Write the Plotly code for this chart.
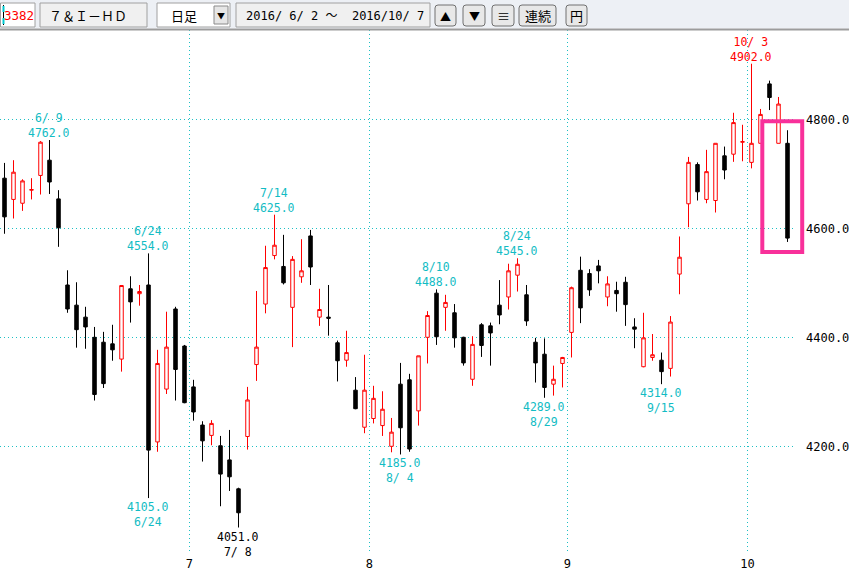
import plotly.graph_objects as go

# ---------------- data ----------------
dates = [
    "6/2", "6/3", "6/6", "6/7", "6/8", "6/9", "6/10", "6/13", "6/14", "6/15", "6/16", "6/17",
    "6/20", "6/21", "6/22", "6/23", "6/24", "6/27", "6/28", "6/29", "6/30",
    "7/1", "7/4", "7/5", "7/6", "7/7", "7/8", "7/11", "7/12", "7/13", "7/14", "7/15",
    "7/19", "7/20", "7/21", "7/22", "7/25", "7/26", "7/27", "7/28", "7/29",
    "8/1", "8/2", "8/3", "8/4", "8/5", "8/8", "8/9", "8/10", "8/12", "8/15", "8/16", "8/17",
    "8/18", "8/19", "8/22", "8/23", "8/24", "8/25", "8/26", "8/29", "8/30", "8/31",
    "9/1", "9/2", "9/5", "9/6", "9/7", "9/8", "9/9", "9/12", "9/13", "9/14", "9/15", "9/16",
    "9/20", "9/21", "9/23", "9/26", "9/27", "9/28", "9/29", "9/30",
    "10/3", "10/4", "10/5", "10/6", "10/7",
]
opens = [
    4692, 4653, 4646, 4670, 4697, 4725, 4654, 4496, 4459, 4437, 4400, 4391,
    4388, 4360, 4489, 4480, 4496, 4208, 4305, 4452, 4384,
    4309, 4239, 4220, 4201, 4175, 4122, 4218, 4350, 4461, 4550, 4530,
    4455, 4511, 4586, 4437, 4437, 4390, 4358, 4303, 4235,
    4251, 4238, 4200, 4314, 4322, 4265, 4400, 4481, 4455, 4445, 4400, 4323,
    4423, 4421, 4459, 4474, 4514, 4478, 4391, 4369, 4314, 4352,
    4409, 4523, 4517, 4531, 4474, 4486, 4501, 4419, 4346, 4363, 4358, 4343,
    4516, 4645, 4717, 4653, 4651, 4733, 4736, 4758,
    4721, 4756, 4865, 4756, 4756,
]
highs = [
    4720, 4725, 4690, 4692, 4760, 4762, 4670, 4523, 4501, 4456, 4419, 4410,
    4423, 4495, 4512, 4496, 4554, 4377, 4447, 4456, 4386,
    4322, 4246, 4248, 4219, 4230, 4124, 4309, 4485, 4568, 4625, 4588,
    4549, 4580, 4597, 4489, 4496, 4394, 4412, 4327, 4368,
    4311, 4301, 4252, 4353, 4333, 4366, 4448, 4488, 4478, 4461, 4401, 4402,
    4426, 4427, 4505, 4535, 4545, 4496, 4399, 4398, 4348, 4364,
    4493, 4548, 4525, 4542, 4512, 4502, 4511, 4435, 4445, 4406, 4372, 4439,
    4585, 4731, 4721, 4744, 4756, 4750, 4812, 4790,
    4902, 4819, 4871, 4841, 4780,
]
lows = [
    4590, 4618, 4632, 4653, 4662, 4663, 4566, 4445, 4381, 4379, 4284, 4307,
    4357, 4337, 4427, 4458, 4105, 4190, 4296, 4284, 4279,
    4247, 4172, 4202, 4090, 4118, 4051, 4194, 4320, 4444, 4543, 4497,
    4382, 4500, 4496, 4421, 4403, 4319, 4346, 4268, 4224,
    4242, 4219, 4189, 4185, 4190, 4238, 4352, 4386, 4412, 4381, 4348, 4311,
    4364, 4348, 4424, 4451, 4484, 4421, 4317, 4289, 4293, 4308,
    4363, 4426, 4476, 4499, 4457, 4447, 4421, 4380, 4345, 4357, 4314, 4328,
    4479, 4602, 4651, 4646, 4629, 4690, 4722, 4723,
    4710, 4756, 4817, 4756, 4575,
]
closes = [
    4621, 4703, 4687, 4671, 4758, 4685, 4601, 4452, 4414, 4419, 4295, 4315,
    4377, 4495, 4465, 4484, 4193, 4352, 4382, 4341, 4280,
    4263, 4210, 4242, 4149, 4144, 4078, 4285, 4382, 4528, 4569, 4500,
    4543, 4522, 4529, 4451, 4435, 4357, 4372, 4269, 4303,
    4288, 4268, 4226, 4234, 4195, 4366, 4440, 4401, 4464, 4399, 4353, 4387,
    4385, 4408, 4441, 4522, 4534, 4430, 4353, 4308, 4323, 4363,
    4491, 4454, 4487, 4522, 4498, 4480, 4460, 4415, 4399, 4368, 4337, 4428,
    4547, 4721, 4667, 4704, 4756, 4707, 4794, 4759,
    4756, 4809, 4840, 4828, 4582,
]
y_ticks = [4200, 4400, 4600, 4800]
high_marks = ["6/9", "6/24", "7/14", "8/10", "8/24", "10/3"]
low_marks = ["6/24", "7/8", "8/4", "8/29", "9/15"]

# ---------------- geometry ----------------
W, H = 849, 573
ML, MR, MT, MB = 0, 56, 30, 20
PW, PH = W - ML - MR, H - MT - MB
STEP = 9.0  # px per trading day
x0 = -4.5 / STEP
x_range = [x0, x0 + PW / STEP]
y_range = [4004.2, 4963.9]

CYAN_TXT = "#12bcc4"
CYAN_GRID = "#1ec0c4"
MONO = "DejaVu Sans Mono, Noto Sans CJK JP, monospace"
JP = "Noto Sans CJK JP, sans-serif"

idx = list(range(len(dates)))

fig = go.Figure(go.Candlestick(
    x=idx, open=opens, high=highs, low=lows, close=closes,
    increasing=dict(line=dict(color="#ff0000", width=1), fillcolor="#ffffff"),
    decreasing=dict(line=dict(color="#000000", width=1), fillcolor="#000000"),
    whiskerwidth=0, hoverinfo="skip", showlegend=False,
))

# month boundaries
months = [d.split("/")[0] for d in dates]
tickvals, ticktext = [], []
for i in range(1, len(dates)):
    if months[i] != months[i - 1]:
        tickvals.append(i - 0.45)
        ticktext.append(months[i])


def fmt_date(d):
    m, dd = d.split("/")
    return f"{m}/{dd:>2}".replace(" ", "\u00a0")


annotations = []
max_h = max(highs)
min_l = min(lows)
for d in high_marks:
    i = dates.index(d)
    col = "#ff0000" if highs[i] == max_h else CYAN_TXT
    annotations.append(dict(
        x=i, y=highs[i], xref="x", yref="y", showarrow=False,
        text=f"{fmt_date(d)}<br>{highs[i]:.1f}", align="center",
        xanchor="center", yanchor="bottom", xshift=-1, yshift=-2,
        font=dict(family=MONO, size=11.5, color=col)))
for d in low_marks:
    i = dates.index(d)
    col = "#000000" if lows[i] == min_l else CYAN_TXT
    annotations.append(dict(
        x=i, y=lows[i], xref="x", yref="y", showarrow=False,
        text=f"{lows[i]:.1f}<br>{fmt_date(d)}", align="center",
        xanchor="center", yanchor="top", xshift=-1, yshift=0,
        font=dict(family=MONO, size=11.5, color=col)))


# ---------------- toolbar (paper coordinates) ----------------
def px(x):
    return (x - ML) / PW


def py(y):
    return (H - MB - y) / PH


shapes = []


def rect(x_a, y_a, x_b, y_b, fill, line="#a0a0a0", lw=1):
    shapes.append(dict(type="rect", xref="paper", yref="paper",
                       x0=px(x_a), x1=px(x_b), y0=py(y_b), y1=py(y_a),
                       fillcolor=fill, line=dict(color=line, width=lw), layer="above"))


def rrect(x_a, y_a, x_b, y_b, r, fill, line="#707070"):
    pts = (f"M{px(x_a + r)},{py(y_a)} L{px(x_b - r)},{py(y_a)} "
           f"Q{px(x_b)},{py(y_a)} {px(x_b)},{py(y_a + r)} "
           f"L{px(x_b)},{py(y_b - r)} Q{px(x_b)},{py(y_b)} {px(x_b - r)},{py(y_b)} "
           f"L{px(x_a + r)},{py(y_b)} Q{px(x_a)},{py(y_b)} {px(x_a)},{py(y_b - r)} "
           f"L{px(x_a)},{py(y_a + r)} Q{px(x_a)},{py(y_a)} {px(x_a + r)},{py(y_a)} Z")
    shapes.append(dict(type="path", xref="paper", yref="paper", path=pts,
                       fillcolor=fill, line=dict(color=line, width=1), layer="above"))


def line(x_a, y_a, x_b, y_b, color, lw=1):
    shapes.append(dict(type="line", xref="paper", yref="paper",
                       x0=px(x_a), x1=px(x_b), y0=py(y_a), y1=py(y_b),
                       line=dict(color=color, width=lw), layer="above"))


def label(x, y, text, size=13, color="#000000", family=JP, anchor="center"):
    annotations.append(dict(x=px(x), y=py(y), xref="paper", yref="paper", text=text,
                            showarrow=False, xanchor=anchor, yanchor="middle",
                            font=dict(family=family, size=size, color=color)))


rect(-1, -1, W + 1, 28.5, "#edf0f5", line="#edf0f5", lw=0)
line(0, 29.5, W, 29.5, "#9c9c9c", 2)
# code box
rect(0.5, 3, 35, 27, "#ffffff")
line(3.5, 5, 3.5, 25, "#000000", 1)
line(3.5, 6, 3.5, 12, "#00c8d0", 2)
line(3.5, 18, 3.5, 24, "#00c8d0", 2)
label(19, 15.5, "3382", size=12.5, color="#ff0000", family=MONO)
# name box
rect(40, 3, 147, 27, "#f0f0f0")
label(47, 15.5, "７＆Ｉ－ＨＤ", size=13, anchor="left")
# period dropdown
rect(157, 3, 230, 27, "#ffffff")
rect(214, 6, 228, 24, "#e6e6e6", line="#8a8a8a")
label(184, 15.5, "日足", size=13)
label(221, 15.5, "▼", size=8)
# date range box
rect(236, 3, 430, 27, "#f0f0f0")
label(244, 15.5, "2016/\u00a06/\u00a02\u00a0～\u00a0\u00a02016/10/\u00a07", size=12, family=MONO, anchor="left")
# buttons
for (a, b, t, s) in [(435, 456, "▲", 11), (463, 485, "▼", 11), (492, 514, "≡", 13),
                     (519, 556, "連続", 13), (566, 587, "円", 13)]:
    rrect(a, 5, b, 26, 3, "#e8e8e8")
    label((a + b) / 2, 15.5, t, size=s)

# highlight box around last candle
shapes.append(dict(type="rect", xref="paper", yref="paper",
                   x0=px(762.3), x1=px(802.2), y0=py(252), y1=py(121.3),
                   line=dict(color="#f8309a", width=4), fillcolor="rgba(0,0,0,0)",
                   layer="above"))

fig.update_layout(
    width=W, height=H,
    margin=dict(l=ML, r=MR, t=MT, b=MB, pad=0),
    paper_bgcolor="#ffffff", plot_bgcolor="#ffffff",
    showlegend=False,
    boxgap=1 - 5 / STEP,
    annotations=annotations,
    shapes=shapes,
    xaxis=dict(
        range=x_range, rangeslider=dict(visible=False),
        tickmode="array", tickvals=tickvals, ticktext=ticktext,
        showgrid=True, gridcolor=CYAN_GRID, gridwidth=1, griddash="1px,3px",
        zeroline=False, showline=False, ticks="",
        tickfont=dict(family=MONO, size=12, color="#000000"),
        ticklabelstandoff=2, fixedrange=True,
    ),
    yaxis=dict(
        range=y_range, side="right",
        tickmode="array", tickvals=y_ticks, ticktext=[f"{v:.1f}" for v in y_ticks],
        showgrid=True, gridcolor=CYAN_GRID, gridwidth=1, griddash="1px,3px",
        zeroline=False, showline=False, ticks="",
        tickfont=dict(family=MONO, size=12, color="#000000"),
        ticklabelstandoff=12, fixedrange=True,
    ),
)

fig.write_html(
    "out.html",
    config={"displayModeBar": False},
    post_script="document.body.style.margin='0';document.body.style.overflow='hidden';",
)
